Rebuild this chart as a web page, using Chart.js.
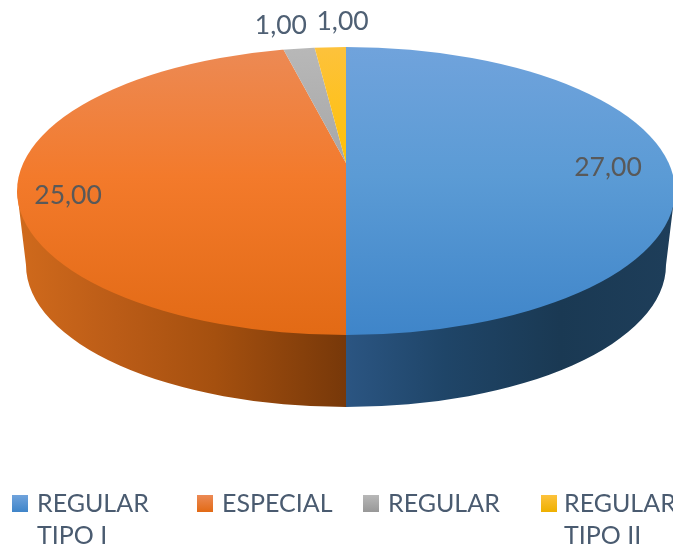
<!DOCTYPE html>
<html>
<head>
<meta charset="utf-8">
<title>Pie 3D</title>
<script src="https://cdn.jsdelivr.net/npm/chart.js@4"></script>
<style>
  html, body { margin: 0; padding: 0; background: #fff; }
  canvas { display: block; filter: blur(0.5px); }
</style>
</head>
<body>
<canvas id="chart" width="673" height="548"></canvas>
<script>
// Data
const categories = ['REGULAR TIPO I', 'ESPECIAL', 'REGULAR', 'REGULAR TIPO II'];
const legendLines = [['REGULAR', 'TIPO I'], ['ESPECIAL'], ['REGULAR'], ['REGULAR', 'TIPO II']];
const values = [27, 25, 1, 1];
const valueLabels = ['27,00', '25,00', '1,00', '1,00'];

// Top face colours, top to bottom of the ellipse
const topStops = [
    ['#70a3dc', '#5b9bd5', '#3f85c9'],
    ['#ec8a55', '#f37a2b', '#e26a15'],
    ['#b8b8b8', '#a5a5a5', '#989898'],
    ['#fdc23c', '#ffc000', '#eeb000']
];
const legendBoxColors = ['#5b9bd5', '#f37a2b', '#a5a5a5', '#ffc000'];

// Geometry of the tilted pie (perspective: slices meet above the ellipse centre)
const apex = { x: 346, y: 163 };
const top3d = { x: 346, y: 191, rx: 329, ry: 144 };
const bottom3d = { x: 346, y: 265, rx: 320, ry: 142 };
const tilt = 0.43;

const labelRadius = 300;
const labelOffsets = [[-38, 4], [20, 17], [-13, -11], [14, -13]];
const legendBoxX = [12, 197, 363, 541];
const legendTextX = [37, 222, 388, 564];

const sliceGradient = (ctx) => {
    const chart = ctx.chart;
    if (!chart.chartArea) return legendBoxColors[ctx.dataIndex];
    const cy = (chart.chartArea.top + chart.chartArea.bottom) / 2;
    // gradient lives in the scaled space, so convert the screen y range
    const toLocal = (y) => cy + (y - apex.y) / tilt;
    const g = chart.ctx.createLinearGradient(0, toLocal(47), 0, toLocal(335));
    const stops = topStops[ctx.dataIndex];
    g.addColorStop(0, stops[0]);
    g.addColorStop(0.45, stops[1]);
    g.addColorStop(1, stops[2]);
    return g;
};

const drawWall = (ctx) => {
    const wall = new Path2D();
    wall.moveTo(top3d.x - top3d.rx, top3d.y);
    wall.lineTo(bottom3d.x - bottom3d.rx, bottom3d.y);
    wall.ellipse(bottom3d.x, bottom3d.y, bottom3d.rx, bottom3d.ry, 0, Math.PI, 0, true);
    wall.lineTo(top3d.x + top3d.rx, top3d.y);
    wall.closePath();

    const orange = ctx.createLinearGradient(top3d.x - top3d.rx, 0, apex.x, 0);
    orange.addColorStop(0, '#d06a1c');
    orange.addColorStop(0.3, '#bb5c17');
    orange.addColorStop(0.6, '#a5500f');
    orange.addColorStop(1, '#773809');

    const blue = ctx.createLinearGradient(apex.x, 0, top3d.x + top3d.rx, 0);
    blue.addColorStop(0, '#2b5582');
    blue.addColorStop(0.3, '#1f4568');
    blue.addColorStop(0.65, '#1a3953');
    blue.addColorStop(1, '#1e3e5a');

    ctx.save();
    ctx.clip(wall);
    ctx.fillStyle = orange;
    ctx.fillRect(0, 0, apex.x, 548);
    ctx.fillStyle = blue;
    ctx.fillRect(apex.x, 0, 673 - apex.x, 548);
    ctx.restore();
};

const pie3d = {
    id: 'pie3d',
    beforeDatasetsDraw(chart) {
        const ctx = chart.ctx;
        const arc = chart.getDatasetMeta(0).data[0];
        drawWall(ctx);
        ctx.save();
        ctx.beginPath();
        ctx.ellipse(top3d.x, top3d.y, top3d.rx, top3d.ry, 0, 0, Math.PI * 2);
        ctx.clip();
        ctx.translate(apex.x, apex.y);
        ctx.scale(1, tilt);
        ctx.translate(-arc.x, -arc.y);
    },
    afterDatasetsDraw(chart) {
        chart.ctx.restore();
    },
    afterDraw(chart) {
        const ctx = chart.ctx;
        ctx.save();

        // value labels
        ctx.font = '26.5px Lato';
        ctx.textAlign = 'center';
        ctx.textBaseline = 'middle';
        chart.getDatasetMeta(0).data.forEach((arc, i) => {
            const mid = (arc.startAngle + arc.endAngle) / 2;
            const x = apex.x + Math.cos(mid) * labelRadius + labelOffsets[i][0];
            const y = apex.y + Math.sin(mid) * labelRadius * tilt + labelOffsets[i][1];
            ctx.fillStyle = i < 2 ? '#595959' : '#4f6074';
            ctx.fillText(valueLabels[i], x, y);
        });

        // legend
        ctx.font = '25px Lato';
        ctx.textAlign = 'left';
        ctx.textBaseline = 'alphabetic';
        categories.forEach((name, i) => {
            const box = ctx.createLinearGradient(0, 495, 0, 512);
            box.addColorStop(0, topStops[i][0]);
            box.addColorStop(1, topStops[i][2]);
            ctx.fillStyle = box;
            ctx.fillRect(legendBoxX[i], 495, 16, 17);
            ctx.fillStyle = '#4a5b70';
            legendLines[i].forEach((line, j) => {
                ctx.fillText(line, legendTextX[i], 512 + j * 32);
            });
        });
        ctx.restore();
    }
};

new Chart(document.getElementById('chart'), {
    type: 'pie',
    data: {
        labels: categories,
        datasets: [{
            data: values,
            backgroundColor: sliceGradient,
            borderWidth: 0,
            clip: false
        }]
    },
    options: {
        responsive: false,
        animation: false,
        radius: 700,
        layout: { padding: 0 },
        plugins: {
            legend: { display: false },
            tooltip: { enabled: false }
        }
    },
    plugins: [pie3d]
});
</script>
</body>
</html>
